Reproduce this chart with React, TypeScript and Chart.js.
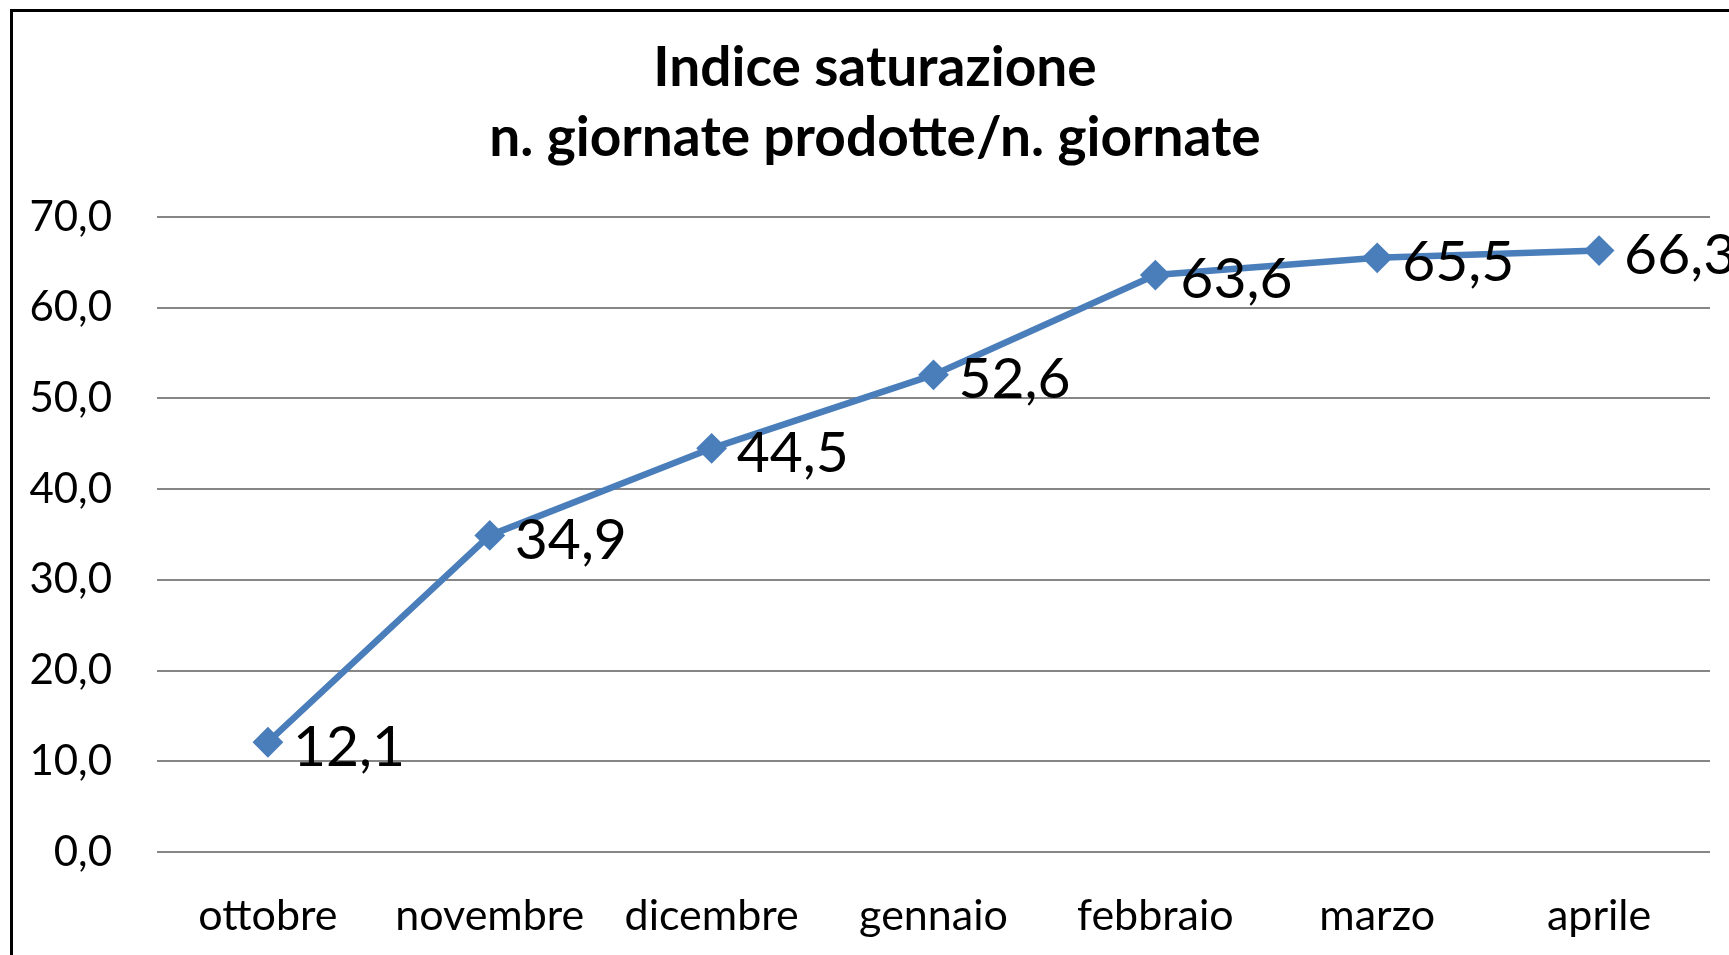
import React, { useEffect, useRef } from "react";
import { Chart, registerables } from "chart.js";

Chart.register(...registerables);

const categories = ["ottobre", "novembre", "dicembre", "gennaio", "febbraio", "marzo", "aprile"];
const values = [12.1, 34.9, 44.5, 52.6, 63.6, 65.5, 66.3];
const titleLines = ["Indice saturazione", "n. giornate prodotte/n. giornate"];
const yMin = 0;
const yMax = 70;
const yStep = 10;

const fmt = (v: number) => v.toFixed(1).replace(".", ",");

const TITLE_FONT = "bold 55px Lato";

const dataLabelPlugin = {
  id: "dataLabels",
  afterDatasetsDraw(chart: any) {
    const ctx = chart.ctx;
    const meta = chart.getDatasetMeta(0);
    ctx.save();
    ctx.font = "57px Lato";
    ctx.fillStyle = "#000000";
    ctx.textAlign = "left";
    ctx.textBaseline = "middle";
    meta.data.forEach((pt: any, i: number) => {
      ctx.fillText(fmt(values[i]), pt.x + 25, pt.y + 5);
    });
    ctx.restore();
  },
};

const titlePlugin = {
  id: "centeredTitle",
  afterDraw(chart: any) {
    const ctx = chart.ctx;
    const box = chart.titleBlock;
    if (!box) return;
    ctx.save();
    ctx.font = TITLE_FONT;
    ctx.fillStyle = "#000000";
    ctx.textAlign = "center";
    ctx.textBaseline = "middle";
    const cx = (chart.width + 21) / 2;
    titleLines.forEach((line, i) => {
      ctx.fillText(line, cx, box.top + 33 + 35 + i * 70);
    });
    ctx.restore();
  },
};

export default function App() {
  const ref = useRef<HTMLCanvasElement | null>(null);
  useEffect(() => {
    if (!ref.current) return;
    const chart = new Chart(ref.current, {
      type: "line",
      data: {
        labels: categories,
        datasets: [
          {
            data: values,
            borderColor: "#4A7EBB",
            backgroundColor: "#4A7EBB",
            borderWidth: 6.5,
            pointStyle: "rectRot",
            pointRadius: 14,
            pointBorderWidth: 2,
            pointBorderColor: "#4A7EBB",
            pointBackgroundColor: "#4A7EBB",
            tension: 0,
            fill: false,
          },
        ],
      },
      options: {
        animation: false,
        responsive: false,
        events: [],
        layout: { padding: { left: 0, right: 19, top: 0, bottom: 0 } },
        plugins: {
          legend: { display: false },
          tooltip: { enabled: false },
          title: {
            display: true,
            text: titleLines,
            color: "rgba(0,0,0,0)",
            font: { family: "Lato", size: 55, weight: "bold", lineHeight: 70 / 55 },
            padding: { top: 33, bottom: 44 },
          },
        },
        scales: {
          x: {
            offset: true,
            grid: { display: false, drawTicks: false },
            border: { display: false },
            ticks: {
              color: "#000000",
              font: { family: "Lato", size: 43 },
              padding: 38,
              maxRotation: 0,
              autoSkip: false,
            },
            afterFit: (s: any) => {
              s.height = 103;
            },
          },
          y: {
            min: yMin,
            max: yMax,
            grid: { color: "#868686", lineWidth: 2, drawTicks: false },
            border: { display: false },
            ticks: {
              stepSize: yStep,
              color: "#000000",
              font: { family: "Lato", size: 42 },
              padding: 45,
              callback: (v: any) => fmt(Number(v)),
            },
            afterFit: (s: any) => {
              s.width = 157;
            },
          },
        },
      },
      plugins: [dataLabelPlugin, titlePlugin],
    });
    return () => chart.destroy();
  }, []);

  return (
    <div style={{ position: "fixed", left: 0, top: 0, width: 1729, height: 955, background: "#ffffff", overflow: "hidden" }}>
      <div
        style={{
          position: "absolute",
          left: 10,
          top: 9,
          width: 1800,
          height: 1000,
          borderTop: "3px solid #000000",
          borderLeft: "3px solid #000000",
          boxSizing: "border-box",
        }}
      />
      <canvas ref={ref} width={1729} height={955} style={{ position: "absolute", left: 0, top: 0, width: 1729, height: 955 }} />
    </div>
  );
}
